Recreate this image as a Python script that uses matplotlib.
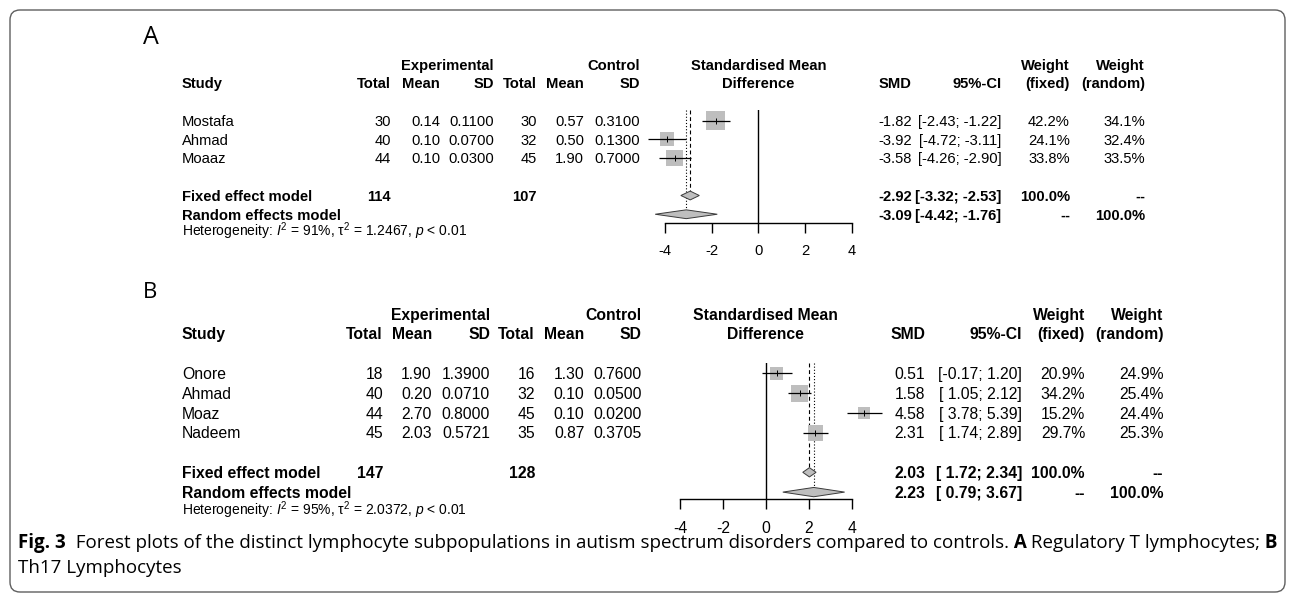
import matplotlib
matplotlib.use("Agg")
import matplotlib.pyplot as plt
import numpy as np
from matplotlib.patches import FancyBboxPatch, Polygon

plt.rcParams["font.family"] = ["Liberation Sans", "DejaVu Sans"]
plt.rcParams["axes.unicode_minus"] = False
plt.rcParams["mathtext.fontset"] = "custom"
plt.rcParams["mathtext.rm"] = "Liberation Sans"
plt.rcParams["mathtext.it"] = "Liberation Sans:italic"
plt.rcParams["mathtext.bf"] = "Liberation Sans:bold"

# ---- panel A: regulatory T lymphocytes ----
studies_a = ["Mostafa", "Ahmad", "Moaaz"]
exp_n_a = [30, 40, 44]
exp_mean_a = [0.14, 0.10, 0.10]
exp_sd_a = [0.1100, 0.0700, 0.0300]
ctl_n_a = [30, 32, 45]
ctl_mean_a = [0.57, 0.50, 1.90]
ctl_sd_a = [0.3100, 0.1300, 0.7000]
smd_a = [-1.82, -3.92, -3.58]
lo_a = [-2.43, -4.72, -4.26]
hi_a = [-1.22, -3.11, -2.90]
w_fixed_a = [42.2, 24.1, 33.8]
w_random_a = [34.1, 32.4, 33.5]
fixed_a = [-2.92, -3.32, -2.53]
random_a = [-3.09, -4.42, -1.76]
totals_a = [114, 107]
het_a = [91, 1.2467]

# ---- panel B: Th17 lymphocytes ----
studies_b = ["Onore", "Ahmad", "Moaz", "Nadeem"]
exp_n_b = [18, 40, 44, 45]
exp_mean_b = [1.90, 0.20, 2.70, 2.03]
exp_sd_b = [1.3900, 0.0710, 0.8000, 0.5721]
ctl_n_b = [16, 32, 45, 35]
ctl_mean_b = [1.30, 0.10, 0.10, 0.87]
ctl_sd_b = [0.7600, 0.0500, 0.0200, 0.3705]
smd_b = [0.51, 1.58, 4.58, 2.31]
lo_b = [-0.17, 1.05, 3.78, 1.74]
hi_b = [1.20, 2.12, 5.39, 2.89]
w_fixed_b = [20.9, 34.2, 15.2, 29.7]
w_random_b = [24.9, 25.4, 24.4, 25.3]
fixed_b = [2.03, 1.72, 2.34]
random_b = [2.23, 0.79, 3.67]
totals_b = [147, 128]
het_b = [95, 2.0372]

x_ticks = [-4, -2, 0, 2, 4]

caption_line1 = [
    ("Fig. 3", "bold"),
    ("  Forest plots of the distinct lymphocyte subpopulations in autism "
     "spectrum disorders compared to controls.", "normal"),
    (" A", "bold"),
    (" Regulatory T lymphocytes;", "normal"),
    (" B", "bold"),
]
caption_line2 = [("Th17 Lymphocytes", "normal")]

# pixel layout of each panel
layout_a = dict(label_x=143, label_y=37, label_size=18, row1=120.5, pitch=18.75,
                fs=10.6, het_fs=10.0, plot_x=(665, 851.7), plot_rows=(0.45, 6.45),
                study_x=182, cols=[391, 440, 494, 537, 584, 640],
                right_cols=[911.7, 1001.5, 1070, 1145])
layout_b = dict(label_x=143, label_y=292, label_size=16, row1=373.3, pitch=19.8,
                fs=11.3, het_fs=10.0, plot_x=(680, 851.7), plot_rows=(0.49, 7.36),
                study_x=182, cols=[383, 432, 490, 535, 584.3, 641.7],
                right_cols=[925, 1022, 1085, 1163.3])

W, H = 1295, 599
fig = plt.figure(figsize=(W / 100, H / 100), dpi=100)
bg = fig.add_axes([0, 0, 1, 1])
bg.set_xlim(0, W)
bg.set_ylim(H, 0)
bg.axis("off")

bg.add_patch(FancyBboxPatch((10, 10), 1275, 582,
                            boxstyle="round,pad=0,rounding_size=10",
                            fill=False, edgecolor="#5f5f5f", linewidth=1.0))


def pad_strings(values):
    strings = [f"{v:.2f}" for v in values]
    width = max(len(s) for s in strings)
    return [s.rjust(width) for s in strings]


def draw_panel(letter, lay, studies, exp_n, exp_mean, exp_sd, ctl_n, ctl_mean,
               ctl_sd, smd, lo, hi, w_fixed, w_random, fixed, random, totals, het):
    fs = lay["fs"]
    n = len(studies)
    fixed_row, random_row = n + 2, n + 3

    def ypx(row):
        return lay["row1"] + (row - 1) * lay["pitch"]

    def put(x, row, s, ha="right", bold=False, size=None):
        size = size or fs
        bg.text(x, ypx(row) + 0.36 * size * 100 / 72, s, ha=ha, va="baseline",
                fontsize=size, fontweight="bold" if bold else "normal")

    bg.text(lay["label_x"], lay["label_y"], letter, fontsize=lay["label_size"],
            family=["Open Sans", "DejaVu Sans"], ha="left", va="center")

    x0, x1 = lay["plot_x"]
    x_zero = x0 + (x1 - x0) / 2
    c = lay["cols"]
    r = lay["right_cols"]

    # header
    put(c[2], -2, "Experimental", bold=True)
    put(c[5], -2, "Control", bold=True)
    put(lay["study_x"], -1, "Study", ha="left", bold=True)
    for x, s in zip(c, ["Total", "Mean", "SD", "Total", "Mean", "SD"]):
        put(x, -1, s, bold=True)
    put(x_zero, -2, "Standardised Mean", ha="center", bold=True)
    put(x_zero, -1, "Difference", ha="center", bold=True)
    put(r[0], -1, "SMD", bold=True)
    put(r[1], -1, "95%-CI", bold=True)
    put(r[2], -2, "Weight", bold=True)
    put(r[2], -1, "(fixed)", bold=True)
    put(r[3], -2, "Weight", bold=True)
    put(r[3], -1, "(random)", bold=True)

    lo_s = pad_strings(lo + [fixed[1], random[1]])
    hi_s = pad_strings(hi + [fixed[2], random[2]])
    ci_s = [f"[{a}; {b}]" for a, b in zip(lo_s, hi_s)]

    # study rows
    for i in range(n):
        row = i + 1
        put(lay["study_x"], row, studies[i], ha="left")
        put(c[0], row, f"{exp_n[i]}")
        put(c[1], row, f"{exp_mean[i]:.2f}")
        put(c[2], row, f"{exp_sd[i]:.4f}")
        put(c[3], row, f"{ctl_n[i]}")
        put(c[4], row, f"{ctl_mean[i]:.2f}")
        put(c[5], row, f"{ctl_sd[i]:.4f}")
        put(r[0], row, f"{smd[i]:.2f}")
        put(r[1], row, ci_s[i])
        put(r[2], row, f"{w_fixed[i]:.1f}%")
        put(r[3], row, f"{w_random[i]:.1f}%")

    # summary rows
    put(lay["study_x"], fixed_row, "Fixed effect model", ha="left", bold=True)
    put(c[0], fixed_row, f"{totals[0]}", bold=True)
    put(c[3], fixed_row, f"{totals[1]}", bold=True)
    put(r[0], fixed_row, f"{fixed[0]:.2f}", bold=True)
    put(r[1], fixed_row, ci_s[n], bold=True)
    put(r[2], fixed_row, "100.0%", bold=True)
    put(r[3], fixed_row, "--", bold=True)
    put(lay["study_x"], random_row, "Random effects model", ha="left", bold=True)
    put(r[0], random_row, f"{random[0]:.2f}", bold=True)
    put(r[1], random_row, ci_s[n + 1], bold=True)
    put(r[2], random_row, "--", bold=True)
    put(r[3], random_row, "100.0%", bold=True)
    put(lay["study_x"], n + 3.9,
        rf"Heterogeneity: $I^2$ = {het[0]}%, $\mathrm{{\tau}}^2$ = {het[1]:.4f}, $p$ < 0.01",
        ha="left", size=lay["het_fs"])

    # forest plot
    top_row, bot_row = lay["plot_rows"]
    y0, y1 = ypx(top_row), ypx(bot_row)
    ax = fig.add_axes([x0 / W, 1 - y1 / H, (x1 - x0) / W, (y1 - y0) / H])
    ax.set_xlim(-4, 4)
    ax.set_ylim(bot_row, top_row)
    ax.patch.set_alpha(0)
    for side in ["top", "left", "right"]:
        ax.spines[side].set_visible(False)
    ax.spines["bottom"].set_linewidth(1.0)
    ax.set_yticks([])
    ax.set_xticks(x_ticks)
    ax.set_xticklabels([str(t) for t in x_ticks])
    ax.tick_params(axis="x", direction="out", length=7.5, width=1.0, pad=8,
                   labelsize=fs)

    rows = np.arange(1, n + 1)
    ax.axvline(0, color="black", linewidth=1.0, zorder=1)
    ax.plot([fixed[0], fixed[0]], [top_row, fixed_row], color="black",
            linewidth=0.8, linestyle=(0, (3.5, 2.5)), zorder=1)
    ax.plot([random[0], random[0]], [top_row, random_row], color="black",
            linewidth=0.8, linestyle=(0, (1, 1.8)), zorder=1)

    side_pt = 2.9 * np.sqrt(np.array(w_fixed)) * 0.72
    ax.scatter(smd, rows, marker="s", s=side_pt ** 2, color="#bebebe",
               linewidths=0, zorder=2, clip_on=False)
    ax.hlines(rows, lo, hi, color="black", linewidth=0.9, zorder=3, clip_on=False)
    ax.scatter(smd, rows, marker="|", s=4.5 ** 2, color="black",
               linewidths=0.7, zorder=4, clip_on=False)

    h = 0.235
    for est, lo_v, hi_v, row in [(fixed[0], fixed[1], fixed[2], fixed_row),
                                 (random[0], random[1], random[2], random_row)]:
        ax.add_patch(Polygon([(lo_v, row), (est, row - h), (hi_v, row), (est, row + h)],
                             closed=True, facecolor="#bebebe", edgecolor="#3a3a3a",
                             linewidth=0.7, zorder=3, clip_on=False))


draw_panel("A", layout_a, studies_a, exp_n_a, exp_mean_a, exp_sd_a, ctl_n_a,
           ctl_mean_a, ctl_sd_a, smd_a, lo_a, hi_a, w_fixed_a, w_random_a,
           fixed_a, random_a, totals_a, het_a)
draw_panel("B", layout_b, studies_b, exp_n_b, exp_mean_b, exp_sd_b, ctl_n_b,
           ctl_mean_b, ctl_sd_b, smd_b, lo_b, hi_b, w_fixed_b, w_random_b,
           fixed_b, random_b, totals_b, het_b)

# caption with mixed bold/regular runs, fitted to the line width
renderer = fig.canvas.get_renderer()


def draw_runs(runs, x, y, size):
    artists = []
    for text, weight in runs:
        t = bg.text(x, y, text, fontsize=size, fontweight=weight,
                    family=["Open Sans", "DejaVu Sans"], ha="left", va="baseline")
        x += t.get_window_extent(renderer).width
        artists.append(t)
    return artists, x


cap_x, cap_right = 18, 1278
trial, end = draw_runs(caption_line1, cap_x, 548, 10)
cap_size = 10 * (cap_right - cap_x) / (end - cap_x)
for t in trial:
    t.remove()
draw_runs(caption_line1, cap_x, 548, cap_size)
draw_runs(caption_line2, cap_x, 573, cap_size)

fig.savefig("out.png", dpi=100)
